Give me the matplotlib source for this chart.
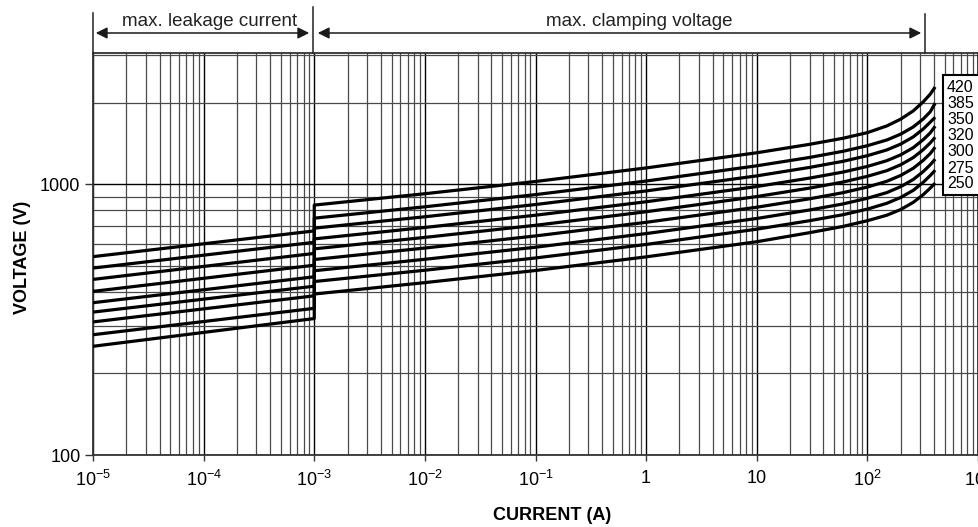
import numpy as np
import matplotlib
matplotlib.use("Agg")
import matplotlib.pyplot as plt
from matplotlib.patches import Rectangle, FancyArrowPatch
from matplotlib.lines import Line2D
from matplotlib.ticker import LogLocator, NullFormatter

plt.rcParams['font.family'] = ['Liberation Sans', 'DejaVu Sans']
plt.rcParams['mathtext.fontset'] = 'custom'
plt.rcParams['mathtext.rm'] = 'Liberation Sans'
plt.rcParams['mathtext.it'] = 'Liberation Sans:italic'
plt.rcParams['mathtext.bf'] = 'Liberation Sans:bold'

# Tramo de fuga (max. leakage current)
I_fuga = [1e-5, 1e-3]
V_fuga_ini = [540, 490, 445, 402, 365, 337, 310, 278, 252]
V_fuga_fin = [672, 610, 555, 502, 455, 420, 387, 348, 319]

# Tramo de recorte (max. clamping voltage)
I_clamp = [1e-3, 1e-2, 1e-1, 1, 10, 30, 60, 100, 150, 200, 260, 320, 370, 410]
V_clamp = [
    [837, 922, 1023, 1148, 1306, 1403, 1477, 1550, 1641, 1738, 1865, 2014, 2149, 2285],
    [749, 825, 915, 1027, 1169, 1255, 1322, 1387, 1456, 1530, 1627, 1741, 1850, 1991],
    [688, 758, 841, 944, 1073, 1153, 1214, 1274, 1338, 1406, 1495, 1599, 1694, 1766],
    [628, 692, 768, 861, 980, 1053, 1108, 1163, 1221, 1283, 1364, 1460, 1546, 1637],
    [577, 636, 705, 791, 900, 967, 1018, 1069, 1122, 1179, 1254, 1341, 1420, 1490],
    [527, 581, 644, 723, 822, 883, 930, 976, 1025, 1077, 1145, 1225, 1297, 1370],
    [479, 528, 585, 657, 747, 803, 845, 887, 931, 979, 1041, 1113, 1179, 1237],
    [437, 481, 534, 599, 682, 733, 771, 809, 850, 893, 949, 1016, 1076, 1126],
    [393, 433, 480, 539, 613, 662, 698, 733, 768, 806, 857, 915, 967, 1009],
]
etiquetas = ['420', '385', '350', '320', '300', '275', '250']

x_ticks = [1e-5, 1e-4, 1e-3, 1e-2, 1e-1, 1, 10, 1e2, 1e3]
x_tick_lab = ['$10^{-5}$', '$10^{-4}$', '$10^{-3}$', '$10^{-2}$', '$10^{-1}$',
              '1', '10', '$10^{2}$', '$10^{3}$']
y_ticks = [100, 1000]
y_tick_lab = ['100', '1000']

W, H = 979, 527
def fx(x): return x / W
def fy(y): return 1 - y / H

fig = plt.figure(figsize=(W / 100, H / 100), dpi=100)
ax = fig.add_axes([fx(93), fy(455), fx(978) - fx(93), fy(53) - fy(455)])

# Curvas
for k in range(len(V_clamp)):
    xs = I_fuga + I_clamp
    ys = [V_fuga_ini[k], V_fuga_fin[k]] + V_clamp[k]
    ax.plot(xs, ys, color='black', lw=2.3, solid_capstyle='butt',
            solid_joinstyle='round', zorder=3)

ax.set_xscale('log')
ax.set_yscale('log')
ax.set_xlim(1e-5, 1e3)
ax.set_ylim(100, 3050)

ax.set_xticks(x_ticks)
ax.set_xticklabels(x_tick_lab, fontsize=13)
ax.set_yticks(y_ticks)
ax.set_yticklabels(y_tick_lab, fontsize=13)
ax.xaxis.set_minor_locator(LogLocator(base=10, subs=np.arange(2, 10)))
ax.yaxis.set_minor_locator(LogLocator(base=10, subs=np.arange(2, 10)))
ax.xaxis.set_minor_formatter(NullFormatter())
ax.yaxis.set_minor_formatter(NullFormatter())
ax.tick_params(which='major', direction='out', length=4, width=1, pad=7, color='#333')
ax.tick_params(axis='y', which='major', length=6, pad=3)
ax.tick_params(which='minor', length=0)

ax.grid(True, which='major', color='black', lw=1.0, zorder=1)
ax.grid(True, which='minor', color='#4a4a4a', lw=0.9, zorder=1)
for s in ax.spines.values():
    s.set_color('#333333')
    s.set_linewidth(1.3)

fig.text(fx(552), fy(515), 'CURRENT (A)', fontsize=13, fontweight='bold',
         ha='center', va='center')
fig.text(fx(23), fy(257), 'VOLTAGE (V)', fontsize=13, fontweight='bold',
         ha='center', va='center', rotation=90)

# Flechas superiores
def flecha(x0, x1, y):
    fig.add_artist(FancyArrowPatch(
        (fx(x0), fy(y)), (fx(x1), fy(y)), transform=fig.transFigure,
        arrowstyle='<|-|>', mutation_scale=17, color='#1a1a1a', lw=1.1))

flecha(93, 312, 33)
flecha(315, 924, 33)
for xv, y0 in [(93, 13), (313, 7), (925, 14)]:
    fig.add_artist(Line2D([fx(xv), fx(xv)], [fy(y0), fy(53)],
                          transform=fig.transFigure, color='#222222', lw=1.1))
fig.text(fx(210), fy(21), 'max. leakage current', fontsize=13.5,
         ha='center', va='center', color='#222222')
fig.text(fx(639), fy(21), 'max. clamping voltage', fontsize=13.5,
         ha='center', va='center', color='#222222')

# Caja de etiquetas
caja = Rectangle((fx(943), fy(195)), fx(80), fy(75) - fy(195),
                 transform=fig.transFigure, facecolor='white',
                 edgecolor='black', lw=1.5, zorder=5)
fig.add_artist(caja)
for i, t in enumerate(etiquetas):
    fig.text(fx(947), fy(88 + 16 * i), t, fontsize=11.5, ha='left',
             va='center', zorder=6)

fig.savefig('out.png', dpi=100)
